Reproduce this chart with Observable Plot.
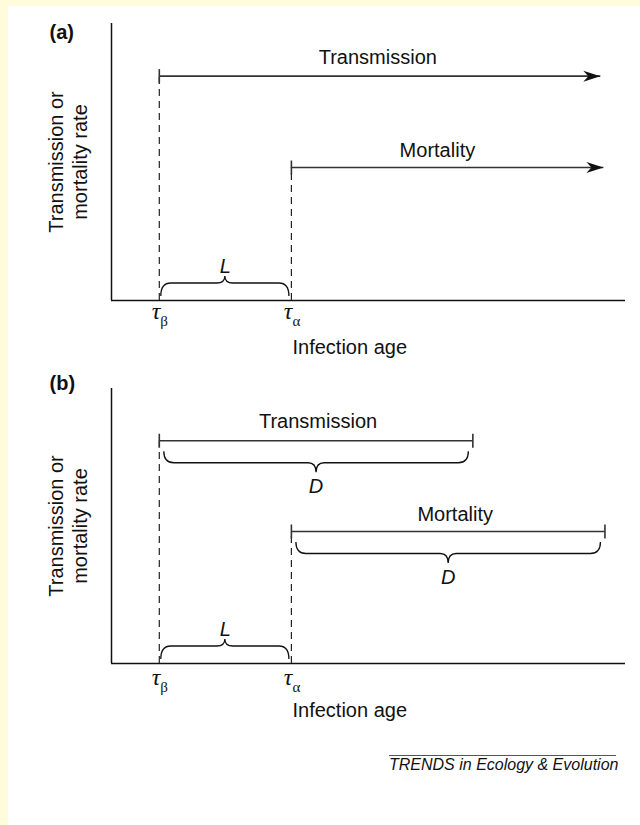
<!DOCTYPE html>
<html><head><meta charset="utf-8">
<script src="https://cdn.jsdelivr.net/npm/d3@7"></script>
<script src="https://cdn.jsdelivr.net/npm/@observablehq/plot@0.6"></script>
<style>
html,body{margin:0;padding:0;}
body{width:640px;height:825px;background:#fffcdc;position:relative;overflow:hidden;font-family:"Liberation Sans",Arial,Helvetica,sans-serif;}
#panel{position:absolute;left:8px;top:6px;right:0;bottom:0;background:#fff;}
.chart{position:absolute;left:0;}
#footer{position:absolute;left:389px;top:755px;width:227px;border-top:1px solid #555;font-style:italic;font-size:16px;line-height:18px;padding-top:0;color:#111;white-space:nowrap;}
</style></head><body>
<div id="panel"></div>
<div id="chartA" class="chart" style="top:0"></div>
<div id="chartB" class="chart" style="top:365px"></div>
<div id="footer"></div>
<script>
// ---- data ----
const panelLabels = ["(a)", "(b)"];
const series = ["Transmission", "Mortality"];
const onsetSymbols = ["β", "α"];      // τβ, τα
const onsetAges = [9.3, 35.0];         // infection age at onset
const rates = [0.81, 0.48];            // rate level
const openEnds = [95.1, 95.7];         // panel (a): open-ended arrows
const duration = 61;                   // panel (b): duration D
const latentLabel = "L";
const durationLabel = "D";
const xLabel = "Infection age";
const yLabel = "Transmission or\nmortality rate";
const footerText = "TRENDS in Ecology & Evolution";

const rows = series.map((s, i) => ({
  series: s, onset: onsetAges[i], rate: rates[i], openEnd: openEnds[i],
  end: onsetAges[i] + duration, symbol: onsetSymbols[i]
}));

document.getElementById("footer").textContent = footerText;

const sans = "Liberation Sans, Arial, Helvetica, sans-serif";
const serif = "Liberation Serif, Times New Roman, serif";
const ink = "#111";
const lineInk = "#333";

const arrowSymbol = {draw(ctx) { ctx.moveTo(0, 0); ctx.lineTo(-17, -5.5); ctx.lineTo(-12, 0); ctx.lineTo(-17, 5.5); ctx.closePath(); }};
const tickSymbol = {draw(ctx) { ctx.moveTo(0, -7); ctx.lineTo(0, 7); }};

function bracePath(x1, x2, yTip, dir, h1, h2, r, rc) {
  const yb = yTip + dir * h1, yc = yb + dir * h2, m = (x1 + x2) / 2;
  return `M${x1},${yTip}Q${x1},${yb} ${x1 + r},${yb}L${m - rc},${yb}Q${m},${yb} ${m},${yc}` +
         `Q${m},${yb} ${m + rc},${yb}L${x2 - r},${yb}Q${x2},${yb} ${x2},${yTip}`;
}

function braceMark(items) {
  return (index, scales) => {
    const g = d3.create("svg:g").attr("fill", "none").attr("stroke", ink).attr("stroke-width", 1.3);
    for (const b of items) {
      const x1 = scales.x(b.from) + b.insetL, x2 = scales.x(b.to) - b.insetR;
      const yTip = scales.y(b.at) + b.offset;
      g.append("path").attr("d", bracePath(x1, x2, yTip, b.dir, b.h1, b.h2, 10, 8));
    }
    return g.node();
  };
}

function makePanel(k) {
  const isA = k === 0;
  const endKey = isA ? "openEnd" : "end";
  const tauDy = isA ? 18 : 21;
  const labelDx = isA ? [-2, -10] : [2, 7];
  const labelDy = isA ? [-12, -11] : [-13, -11];
  const marks = [
    Plot.ruleX([0], {stroke: ink, strokeWidth: 1.5}),
    Plot.ruleY([0], {stroke: ink, strokeWidth: 1.5}),
    Plot.ruleX(rows, {x: "onset", y1: 0, y2: "rate", stroke: "#222", strokeWidth: 1.2, strokeDasharray: "7,5"}),
    Plot.link(rows, {x1: "onset", x2: endKey, y1: "rate", y2: "rate", stroke: lineInk, strokeWidth: 1.6}),
    Plot.dot(rows, {x: "onset", y: "rate", symbol: tickSymbol, fill: "none", stroke: lineInk, strokeWidth: 1.6}),
    isA
      ? Plot.dot(rows, {x: "openEnd", y: "rate", symbol: arrowSymbol, fill: ink, stroke: "none"})
      : Plot.dot(rows, {x: "end", y: "rate", symbol: tickSymbol, fill: "none", stroke: lineInk, strokeWidth: 1.6}),
    ...rows.map((d, i) => Plot.text([d], {
      x: r => (r.onset + r[endKey]) / 2, y: "rate", text: "series",
      dx: labelDx[i], dy: labelDy[i], lineAnchor: "bottom", textAnchor: "middle",
      fontSize: 20, fontFamily: sans, fill: ink
    })),
    // tau tick labels
    Plot.text(rows, {x: "onset", y: 0, text: () => "τ", textAnchor: "end", dx: 1, dy: tauDy,
      lineAnchor: "bottom", fontSize: 24, fontStyle: "italic", fontFamily: serif, fill: ink}),
    Plot.text(rows, {x: "onset", y: 0, text: "symbol", textAnchor: "start", dx: 1, dy: tauDy + 7,
      lineAnchor: "bottom", fontSize: 15, fontFamily: serif, fill: ink}),
    // latent period brace
    braceMark([{from: onsetAges[0], to: onsetAges[1], at: 0, offset: -4, dir: -1, h1: 13, h2: 7, insetL: 2, insetR: 2}]),
    Plot.text([latentLabel], {x: () => (onsetAges[0] + onsetAges[1]) / 2, y: () => 0, text: d => d,
      dy: -28, lineAnchor: "bottom", textAnchor: "middle", fontSize: 20, fontStyle: "italic", fontFamily: sans, fill: ink}),
    // axis titles
    Plot.text([xLabel], {frameAnchor: "bottom-left", text: d => d, dx: 181, dy: 53, textAnchor: "start",
      lineAnchor: "bottom", fontSize: 20, fontFamily: sans, fill: ink}),
    Plot.text([yLabel], {frameAnchor: "left", text: d => d, dx: -44, rotate: -90, textAnchor: "middle",
      lineAnchor: "middle", lineHeight: 1.2, fontSize: 20, fontFamily: sans, fill: ink}),
    Plot.text([panelLabels[k]], {frameAnchor: "top-left", text: d => d, dx: -62, dy: isA ? 9 : -5,
      textAnchor: "start", lineAnchor: "middle", fontSize: 20, fontWeight: "bold", fontFamily: sans, fill: ink})
  ];
  if (!isA) {
    marks.push(
      braceMark(rows.map(d => ({from: d.onset, to: d.end, at: d.rate, offset: 11, dir: 1, h1: 11.5, h2: 9.5, insetL: 5, insetR: 4}))),
      Plot.text(rows, {x: d => (d.onset + d.end) / 2, y: "rate", text: () => durationLabel, dy: 52,
        lineAnchor: "bottom", textAnchor: "middle", fontSize: 20, fontStyle: "italic", fontFamily: sans, fill: ink})
    );
  }
  return Plot.plot({
    width: 640, height: 360,
    marginLeft: 111, marginRight: 15, marginTop: 23, marginBottom: isA ? 60 : 62,
    x: {domain: [0, 100], axis: null},
    y: {domain: [0, 1], axis: null},
    style: {background: "transparent", overflow: "visible", fontFamily: sans, color: ink},
    marks
  });
}

document.getElementById("chartA").append(makePanel(0));
document.getElementById("chartB").append(makePanel(1));
</script>
</body></html>
